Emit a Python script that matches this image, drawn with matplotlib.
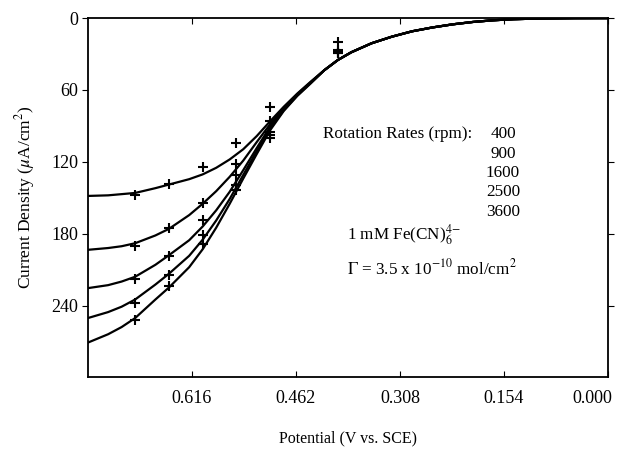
import matplotlib
matplotlib.use("Agg")
import matplotlib.pyplot as plt
from matplotlib.transforms import ScaledTranslation

# potential grid for the fitted curves (V vs SCE)
pot = [0.77, 0.74, 0.72, 0.70, 0.67, 0.65, 0.62, 0.60, 0.58, 0.56, 0.54, 0.52,
       0.50, 0.48, 0.46, 0.44, 0.42, 0.40, 0.38, 0.35, 0.32, 0.29, 0.26, 0.23,
       0.20, 0.17, 0.14, 0.10, 0.05, 0.00]

# shared foot of the wave (0.42 V and below)
tail = [43.5, 35, 28.5, 21, 15.5, 11, 7.8, 5.2, 3.2, 1.8, 0.9, 0.3, 0.05, 0.0]

fit_400 = [148.5, 148, 147, 146, 142, 139, 134.5, 130.5, 125, 118, 109.5, 98.5,
           86, 74, 63, 53] + tail
fit_900 = [193.5, 192, 190.5, 188, 181.5, 176, 164.5, 155, 144.5, 132.5, 119, 103.5,
           88.5, 75, 63.5, 53.5] + tail
fit_1600 = [225.5, 223, 220, 216, 206, 198, 185.5, 174, 160.5, 145, 127, 108.5,
            90.5, 76, 64, 54] + tail
fit_2500 = [250.5, 245.5, 241, 235, 222.5, 213.5, 198.5, 185, 169, 151, 131, 111,
            92, 77, 64.5, 54] + tail
fit_3600 = [271, 264, 258, 250.5, 235, 225, 208, 193, 175, 155, 134, 113.5,
            93.5, 77.5, 65, 54.5] + tail

# measured points
pot_meas = [0.70, 0.65, 0.60, 0.55, 0.50, 0.40]
meas_400 = [148, 138.5, 124, 104, 74, 20]
meas_900 = [190, 175, 154.5, 122, 85.5, 27]
meas_1600 = [217.5, 198.5, 169, 131, 95, 28]
meas_2500 = [237.5, 214.5, 181, 139.5, 98, 29]
meas_3600 = [252, 224, 189, 143.5, 100, 29.5]

rpm_labels = ["400", "900", "1600", "2500", "3600"]
x_ticks = [0.616, 0.462, 0.308, 0.154, 0.000]
y_ticks = [0, 60, 120, 180, 240]

plt.rcParams['font.family'] = ['Liberation Serif', 'DejaVu Serif']
plt.rcParams['mathtext.fontset'] = 'stix'

fig = plt.figure(figsize=(6.23, 4.53), dpi=100)
ax = fig.add_axes([0.141, 0.167, 0.835, 0.793])

fits = [fit_400, fit_900, fit_1600, fit_2500, fit_3600]
meas = [meas_400, meas_900, meas_1600, meas_2500, meas_3600]
for f, m in zip(fits, meas):
    ax.plot(pot, f, color='black', lw=1.6)
    ax.plot(pot_meas, m, linestyle='none', marker='+', ms=7.5, mew=1.5, color='black')

ax.set_xlim(0.77, 0.0)
ax.set_ylim(300, 0)
ax.set_xticks(x_ticks)
ax.set_xticklabels(["%.3f" % v for v in x_ticks])
ax.set_yticks(y_ticks)
ax.tick_params(axis='x', direction='in', length=4, top=True, labelsize=13, pad=9)
ax.tick_params(axis='y', direction='out', length=4, labelsize=13, pad=3)
ax.tick_params(axis='y', which='major', right=True)
for s in ax.spines.values():
    s.set_linewidth(1.3)

# keep the last tick label inside the figure
last = ax.get_xticklabels()[-1]
last.set_transform(last.get_transform() + ScaledTranslation(-16 / 100, 0, fig.dpi_scale_trans))

ax.set_xlabel("Potential (V vs. SCE)", fontsize=11.5, labelpad=17)
ax.set_ylabel(r"Current Density ($\mu$A/cm$^2$)", fontsize=12.5, labelpad=10)

def px(x, y):
    return x / 623.0, 1 - y / 453.0

fig.text(*px(323, 134), "Rotation Rates (rpm):", fontsize=12.3, va='center')
for i, lab in enumerate(rpm_labels):
    fig.text(*px(503, 134 + 19.5 * i), lab, fontsize=12.3, va='center', ha='center')
fig.text(*px(347, 235), r"1 mM Fe(CN)$_6^{4\!-}$", fontsize=12.3, va='center')
fig.text(*px(347, 268), r"$\Gamma$ = 3.5 x 10$^{-10}$ mol/cm$^2$", fontsize=12.3, va='center')

fig.savefig("out.png", dpi=100)
